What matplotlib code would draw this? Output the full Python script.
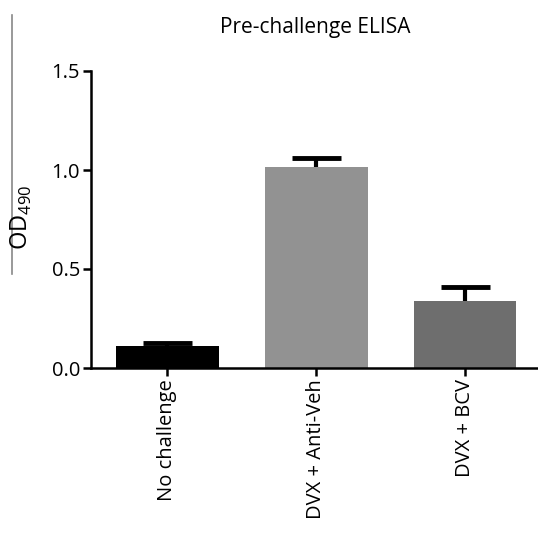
import matplotlib
matplotlib.use("Agg")
import matplotlib.pyplot as plt
from matplotlib.lines import Line2D
import numpy as np

categories = ["No challenge", "DVX + Anti-Veh", "DVX + BCV"]
means = [0.113, 1.017, 0.340]
errors = [0.012, 0.042, 0.071]
colors = ["#000000", "#929292", "#6e6e6e"]
yticks = [0.0, 0.5, 1.0, 1.5]
title = "Pre-challenge ELISA"

plt.rcParams['font.family'] = ['Open Sans', 'DejaVu Sans']
plt.rcParams['mathtext.fontset'] = 'custom'
plt.rcParams['mathtext.rm'] = 'Open Sans'

W, H = 538, 533
fig = plt.figure(figsize=(W/100, H/100), dpi=100)
ax = fig.add_axes([91/W, 1-368/H, (538-91)/W, (368-71)/H])

x = np.arange(len(categories))
m = np.array(means)
e = np.array(errors)
ax.bar(x, m, width=0.69, color=colors, zorder=2)
ax.vlines(x, m, m + e, color='black', linewidth=3, zorder=3)
ax.hlines(m + e, x - 0.165, x + 0.165, color='black', linewidth=3.5, zorder=3)

ax.set_xlim(-0.513, 2.49)
ax.set_ylim(0, 1.5)
ax.set_yticks(yticks)
ax.set_yticklabels([f"{v:.1f}" for v in yticks], fontsize=14.5)
ax.set_xticks(x)
ax.set_xticklabels(categories, rotation=90, fontsize=14.5)
for s in ['top', 'right']:
    ax.spines[s].set_visible(False)
for s in ['left', 'bottom']:
    ax.spines[s].set_linewidth(1.8)
ax.spines['left'].set_bounds(0, 1.5)
ax.tick_params(axis='y', length=6, width=1.8, pad=2)
ax.tick_params(axis='x', length=6, width=1.8, pad=2)

fig.text(315/W, 1-28/H, title, ha='center', va='center', fontsize=15)
fig.text(21/W, 1-217/H, r'OD$_{\mathregular{490}}$', rotation=90, ha='center', va='center', fontsize=17)
fig.add_artist(Line2D([12/W, 12/W], [1-15/H, 1-274/H], color='#888888', linewidth=1.2))

fig.savefig("out.png", dpi=100)
